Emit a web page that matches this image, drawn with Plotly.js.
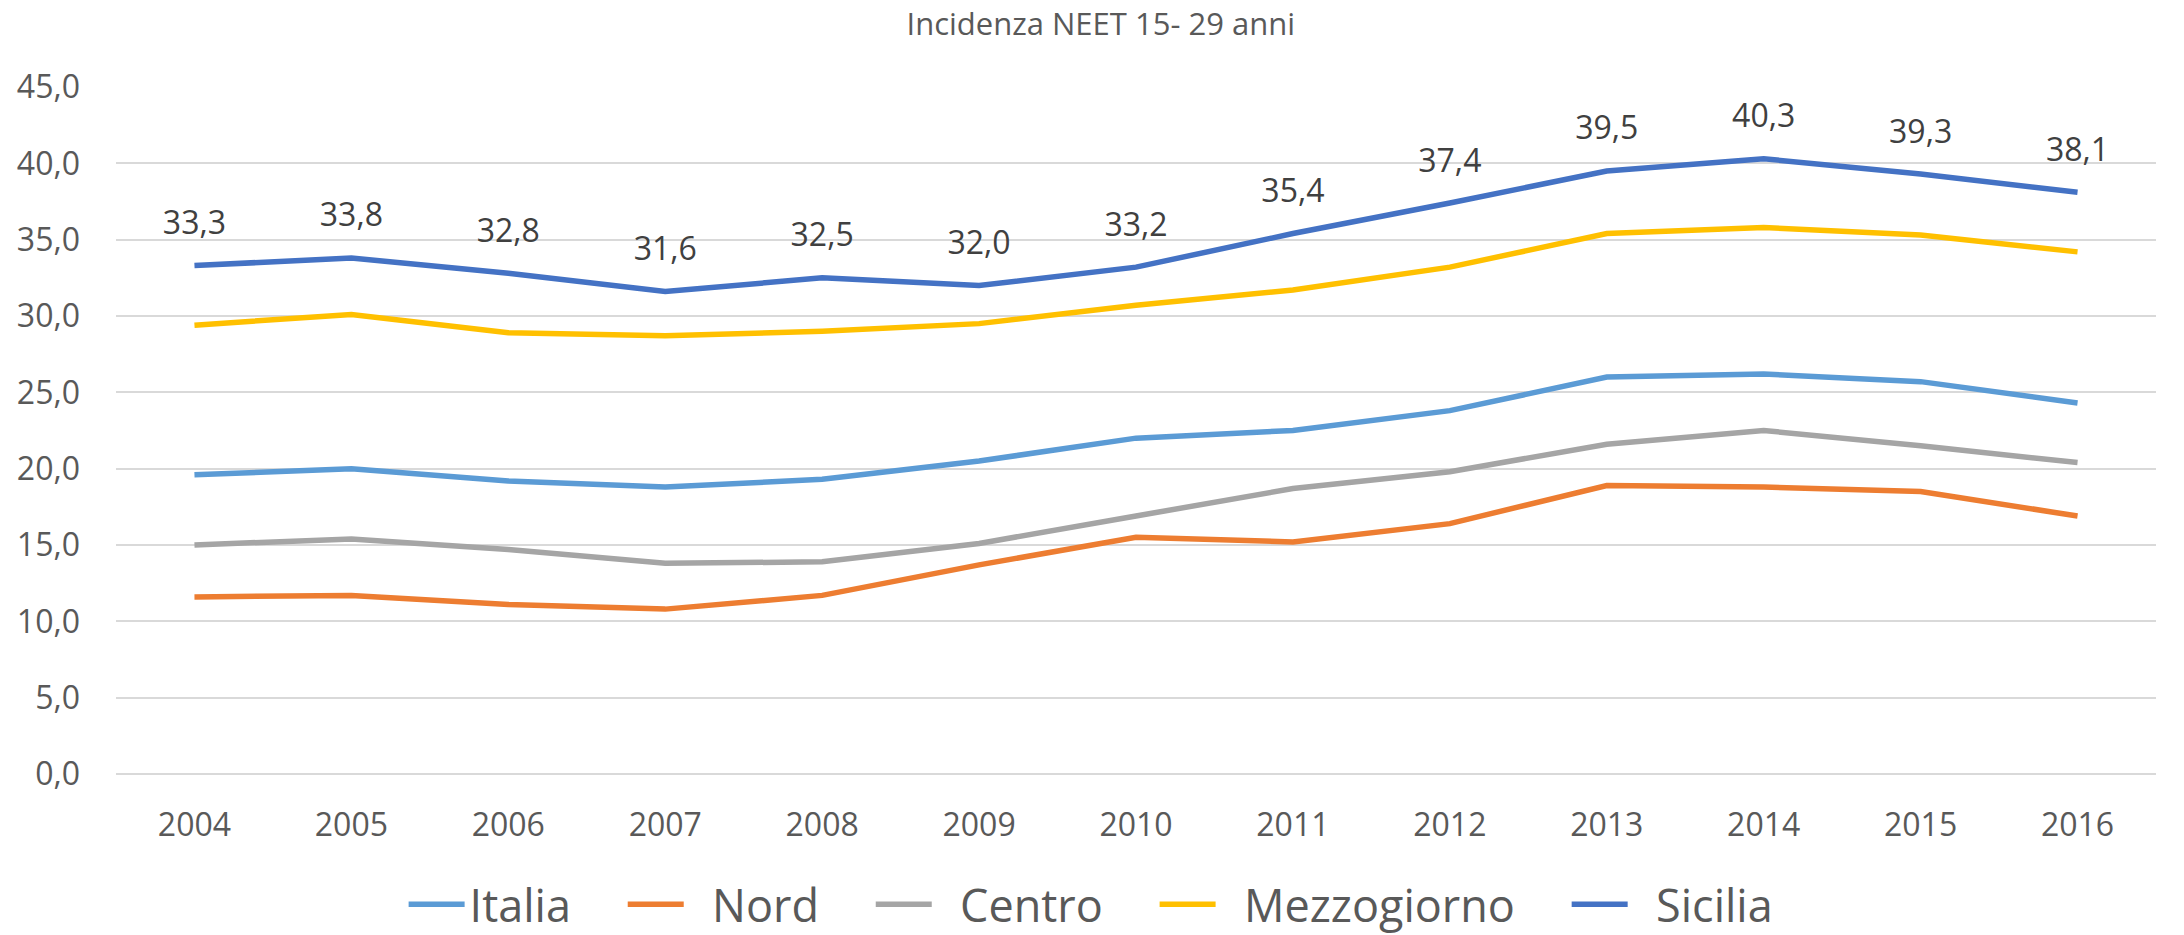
<!DOCTYPE html>
<html>
<head>
<meta charset="utf-8">
<script src="https://cdn.plot.ly/plotly-3.0.1.min.js"></script>
<style>
  html, body { margin: 0; padding: 0; background: #ffffff; }
  #chart { width: 2184px; height: 935px; }
</style>
</head>
<body>
<div id="chart"></div>
<script>
const years = ['2004','2005','2006','2007','2008','2009','2010','2011','2012','2013','2014','2015','2016'];
const italia      = [19.6, 20.0, 19.2, 18.8, 19.3, 20.5, 22.0, 22.5, 23.8, 26.0, 26.2, 25.7, 24.3];
const nord        = [11.6, 11.7, 11.1, 10.8, 11.7, 13.7, 15.5, 15.2, 16.4, 18.9, 18.8, 18.5, 16.9];
const centro      = [15.0, 15.4, 14.7, 13.8, 13.9, 15.1, 16.9, 18.7, 19.8, 21.6, 22.5, 21.5, 20.4];
const mezzogiorno = [29.4, 30.1, 28.9, 28.7, 29.0, 29.5, 30.7, 31.7, 33.2, 35.4, 35.8, 35.3, 34.2];
const sicilia     = [33.3, 33.8, 32.8, 31.6, 32.5, 32.0, 33.2, 35.4, 37.4, 39.5, 40.3, 39.3, 38.1];
const yTicks = [0, 5, 10, 15, 20, 25, 30, 35, 40, 45];
const seriesNames = ['Italia', 'Nord', 'Centro', 'Mezzogiorno', 'Sicilia'];

const FONT = '"Open Sans", "Noto Sans", sans-serif';
const TXT = '#595959';
const NB = '\u00A0';

const series = [
  {name: seriesNames[0], y: italia, color: '#5B9BD5', pre: 0},
  {name: seriesNames[1], y: nord, color: '#ED7D31', pre: 2},
  {name: seriesNames[2], y: centro, color: '#A5A5A5', pre: 2},
  {name: seriesNames[3], y: mezzogiorno, color: '#FFC000', pre: 2},
  {name: seriesNames[4], y: sicilia, color: '#4472C4', pre: 2}
];

const traces = series.map((s, k) => ({
  type: 'scatter', mode: 'lines',
  name: NB.repeat(s.pre) + s.name + (k < series.length - 1 ? NB.repeat(4) : ''),
  x: years, y: s.y,
  line: {color: s.color, width: 5.5},
  hoverinfo: 'skip'
}));

// data labels for Sicilia
traces.push({
  type: 'scatter', mode: 'markers+text', showlegend: false,
  x: years, y: sicilia,
  text: sicilia.map(v => v.toFixed(1).replace('.', ',')),
  textposition: 'top center',
  textfont: {family: FONT, size: 32, color: '#404040'},
  marker: {size: 36, color: 'rgba(0,0,0,0)'},
  hoverinfo: 'skip'
});

const layout = {
  width: 2184, height: 935,
  paper_bgcolor: '#ffffff', plot_bgcolor: '#ffffff',
  margin: {l: 116, r: 28, t: 87, b: 161, autoexpand: false},
  separators: ',.',
  font: {family: FONT, color: TXT, size: 32},
  title: {
    text: 'Incidenza NEET 15- 29 anni',
    font: {family: FONT, size: 31, color: TXT},
    x: 0.504, xref: 'container', xanchor: 'center',
    y: 0.974, yref: 'container', yanchor: 'middle'
  },
  xaxis: {
    type: 'category', range: [-0.5, 12.5],
    showgrid: false, showline: false, zeroline: false,
    ticks: '', tickfont: {family: FONT, size: 32, color: TXT},
    ticklabelstandoff: 29
  },
  yaxis: {
    range: [0, 45], tickvals: yTicks, tickformat: '.1f',
    showgrid: true, gridcolor: '#D9D9D9', gridwidth: 2,
    zeroline: true, zerolinecolor: '#D9D9D9', zerolinewidth: 2,
    showline: false, ticks: '',
    tickfont: {family: FONT, size: 32, color: TXT},
    ticklabelstandoff: 35
  },
  showlegend: true,
  legend: {
    orientation: 'h', x: 0.478, xanchor: 'center',
    y: -0.19, yanchor: 'middle',
    font: {family: FONT, size: 45, color: TXT},
    itemwidth: 56, traceorder: 'normal'
  }
};

Plotly.newPlot('chart', traces, layout, {displayModeBar: false, staticPlot: true});
</script>
</body>
</html>
